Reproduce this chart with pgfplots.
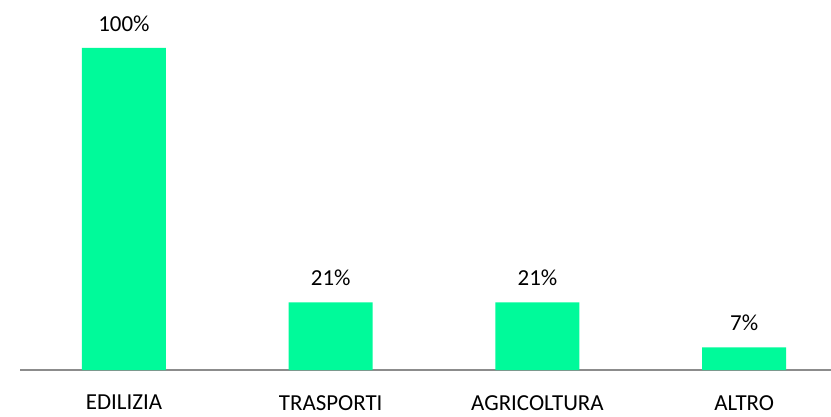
\documentclass[border=0pt]{standalone}
\usepackage{pgfplots}
\pgfplotsset{compat=1.18}
\usepackage{fontspec}
\setmainfont{Carlito}
\definecolor{barGreen}{HTML}{00FA9A}
\definecolor{axisGray}{HTML}{8C8C8C}
\begin{document}
\begin{tikzpicture}
\useasboundingbox (0,0) rectangle (831bp,417bp);
\begin{axis}[
    at={(20bp,47bp)}, anchor=south west,
    scale only axis,
    width=811bp, height=322bp,
    xmin=-0.503, xmax=3.42,
    ymin=0, ymax=100,
    clip=false,
    ybar, bar width=84bp,
    axis x line=bottom,
    axis y line=none,
    axis line style={-, draw=axisGray, line width=1.6bp},
    xtick=data,
    xticklabels={EDILIZIA,TRASPORTI,AGRICOLTURA,ALTRO},
    major tick length=0pt,
    /pgf/number format/assume math mode=true,
    x tick label style={font=\fontsize{23}{27}\selectfont, anchor=north, yshift=-25bp, inner sep=0bp},
    nodes near coords={\pgfmathprintnumber{\pgfplotspointmeta}\%},
    every node near coord/.append style={font=\fontsize{23}{27}\selectfont, anchor=south, yshift=13bp},
]
\addplot[fill=barGreen, draw=none] coordinates {(0,100) (1,21) (2,21) (3,7)};
\end{axis}
\end{tikzpicture}
\end{document}
